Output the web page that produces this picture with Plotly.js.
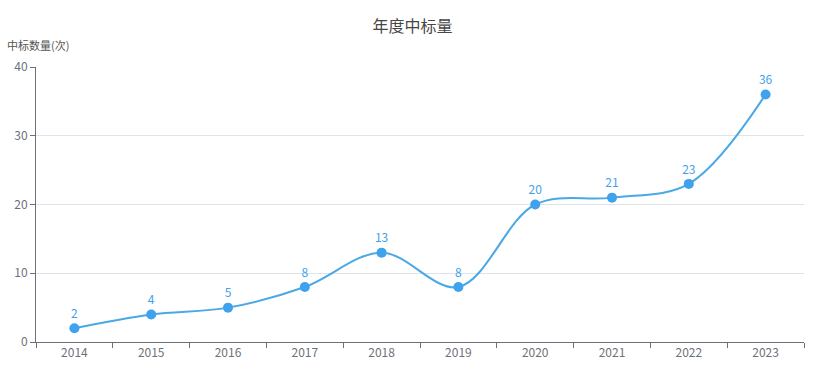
<!DOCTYPE html>
<html>
<head>
<meta charset="utf-8">
<script src="https://cdn.plot.ly/plotly-3.0.1.min.js"></script>
<style>html,body{margin:0;padding:0;background:#fff;}#chart{width:825px;height:380px;}</style>
</head>
<body>
<div id="chart"></div>
<script>
const years = ["2014","2015","2016","2017","2018","2019","2020","2021","2022","2023"];
const counts = [2, 4, 5, 8, 13, 8, 20, 21, 23, 36];
const yTicks = [0, 10, 20, 30, 40];

const FONT = '"Noto Sans CJK SC", "Noto Sans", sans-serif';
const BLUE = '#3fa2ec';

const trace = {
  x: years,
  y: counts,
  type: 'scatter',
  mode: 'lines+markers+text',
  line: {color: '#4aa8e6', width: 2, shape: 'spline', smoothing: 1},
  marker: {color: BLUE, size: 10},
  text: counts.map(String),
  textposition: 'top center',
  textfont: {family: FONT, size: 12, color: BLUE},
  cliponaxis: false,
  hoverinfo: 'x+y'
};

const layout = {
  width: 825, height: 380,
  margin: {l: 36, r: 21, t: 67, b: 38},
  paper_bgcolor: '#fff', plot_bgcolor: '#fff',
  font: {family: FONT, size: 12, color: '#6e7079'},
  title: {text: '年度中标量', x: 0.5, xanchor: 'center', y: 0.93, yanchor: 'middle',
          font: {family: FONT, size: 16, color: '#464646'}},
  showlegend: false,
  xaxis: {
    type: 'category',
    range: [-0.5, years.length - 0.5],
    autorange: false,
    tickson: 'boundaries',
    ticks: 'outside', ticklen: 5, tickcolor: '#6e7079',
    showline: true, linecolor: '#6e7079', linewidth: 1,
    showgrid: false, zeroline: false,
    tickfont: {family: FONT, size: 12, color: '#6e7079'},
    fixedrange: true
  },
  yaxis: {
    range: [0, 40],
    autorange: false,
    tickvals: yTicks,
    ticks: 'outside', ticklen: 5, tickcolor: '#6e7079',
    showline: true, linecolor: '#6e7079', linewidth: 1,
    showgrid: true, gridcolor: '#dfe3ea', gridwidth: 1,
    zeroline: false,
    tickfont: {family: FONT, size: 12, color: '#6e7079'},
    fixedrange: true
  },
  annotations: [{
    text: '中标数量(次)', xref: 'paper', yref: 'paper',
    x: -0.04, y: 1.0, xanchor: 'left', yanchor: 'bottom', yshift: 12,
    showarrow: false, font: {family: FONT, size: 11, color: '#555'}
  }]
};

Plotly.newPlot('chart', [trace], layout, {displayModeBar: false, staticPlot: true});
</script>
</body>
</html>
